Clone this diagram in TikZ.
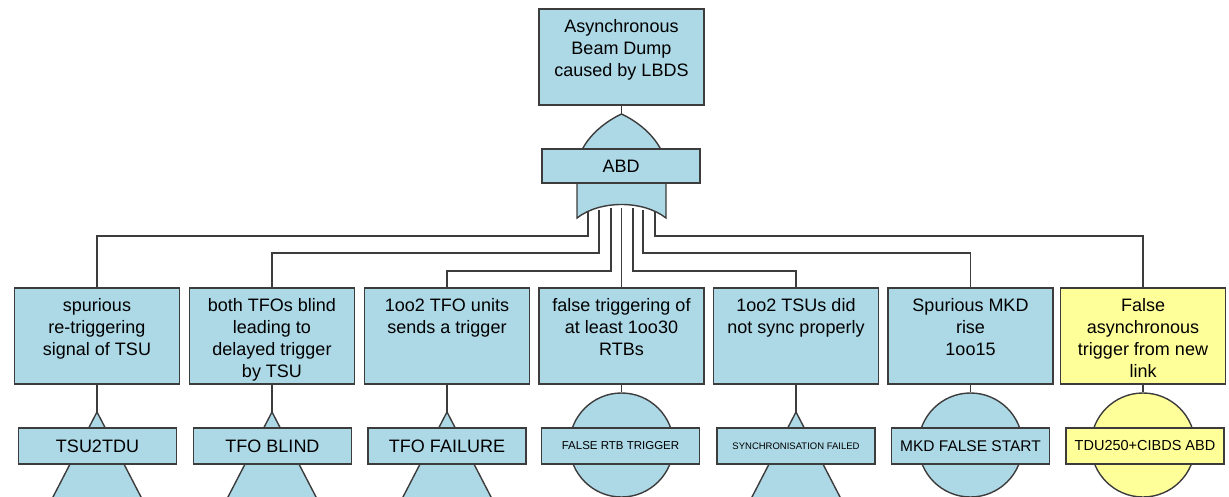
\documentclass[tikz,border=0pt]{standalone}
\usepackage{fontspec}
\setmainfont{Liberation Sans}
\definecolor{ftblue}{HTML}{ADD8E6}
\definecolor{ftyellow}{HTML}{FFFF99}
\definecolor{ftline}{HTML}{3C3C3C}
\tikzset{
  ev/.style={draw=ftline, line width=1.4pt, fill=ftblue, minimum width=165pt, minimum height=96pt, inner sep=0pt},
  evtext/.style={anchor=north, align=center, inner sep=0pt, font=\fontsize{18}{22}\selectfont, text=black},
  lab/.style={draw=ftline, line width=1.4pt, fill=ftblue, minimum width=158pt, minimum height=36pt, inner sep=0pt, font=\fontsize{18}{22}\selectfont, text=black},
  conn/.style={draw=ftline, line width=1.4pt},
  sym/.style={draw=ftline, line width=1.4pt, fill=ftblue},
  basic/.style={circle, draw=ftline, line width=1.4pt, fill=ftblue, minimum size=104pt, inner sep=0pt},
  yel/.style={fill=ftyellow}
}
\begin{document}
\begin{tikzpicture}[x=1pt,y=-1pt]
\clip (0,0) rectangle (1229,497);
\fill[white] (0,0) rectangle (1229,497);

% top event
\node[ev] (b0) at (621.5,57) {};
\node[evtext] (t0) at ([yshift=-11pt]b0.north) {\rule{0pt}{13pt}Asynchronous\\Beam Dump\\caused by LBDS};

% intermediate events
\node[ev] (b1) at (97,336) {};
\node[ev] (b2) at (272,336) {};
\node[ev] (b3) at (447,336) {};
\node[ev] (b4) at (621.5,336) {};
\node[ev] (b5) at (796,336) {};
\node[ev] (b6) at (970.5,336) {};
\node[ev, yel] (b7) at (1143,336) {};

\node[evtext] (t1) at ([yshift=-11pt]b1.north) {\rule{0pt}{13pt}spurious\\re-triggering\\signal of TSU};
\node[evtext] (t2) at ([yshift=-11pt]b2.north) {\rule{0pt}{13pt}both TFOs blind\\leading to\\delayed trigger\\by TSU};
\node[evtext] (t3) at ([yshift=-11pt]b3.north) {\rule{0pt}{13pt}1oo2 TFO units\\sends a trigger};
\node[evtext] (t4) at ([yshift=-11pt]b4.north) {\rule{0pt}{13pt}false triggering of\\at least 1oo30\\RTBs};
\node[evtext] (t5) at ([yshift=-11pt]b5.north) {\rule{0pt}{13pt}1oo2 TSUs did\\not sync properly};
\node[evtext] (t6) at ([yshift=-11pt]b6.north) {\rule{0pt}{13pt}Spurious MKD\\rise\\1oo15};
\node[evtext] (t7) at ([yshift=-11pt]b7.north) {\rule{0pt}{13pt}False\\asynchronous\\trigger from new\\link};

% transfer triangles and basic events
\coordinate (a1) at (97,412);
\coordinate (a2) at (272,412);
\coordinate (a3) at (447,412);
\coordinate (a5) at (796,412);
\draw[sym] (a1) -- ++(-58,112) -- ++(116,0) -- cycle;
\draw[sym] (a2) -- ++(-58,112) -- ++(116,0) -- cycle;
\draw[sym] (a3) -- ++(-58,112) -- ++(116,0) -- cycle;
\draw[sym] (a5) -- ++(-58,112) -- ++(116,0) -- cycle;
\node[basic] (c4) at (621.5,445) {};
\node[basic] (c6) at (970.5,445) {};
\node[basic, yel] (c7) at (1143,445) {};

\draw[conn] (b1.south) -- (a1);
\draw[conn] (b2.south) -- (a2);
\draw[conn] (b3.south) -- (a3);
\draw[conn] (b4.south) -- (c4.north);
\draw[conn] (b5.south) -- (a5);
\draw[conn] (b6.south) -- (c6.north);
\draw[conn] (b7.south) -- (c7.north);

\node[lab] (l1) at (97.5,446) {TSU2TDU};
\node[lab] (l2) at (272.5,446) {TFO BLIND};
\node[lab] (l3) at (447,446) {TFO FAILURE};
\node[lab, font=\fontsize{11.5}{13}\selectfont] (l4) at (620.5,446) {FALSE RTB TRIGGER};
\node[lab, font=\fontsize{9.5}{11}\selectfont] (l5) at (796,446) {SYNCHRONISATION FAILED};
\node[lab, font=\fontsize{15.5}{18}\selectfont] (l6) at (970.5,446) {MKD FALSE START};
\node[lab, yel, font=\fontsize{14.5}{17}\selectfont] (l7) at (1145,446) {TDU250+CIBDS ABD};

% gate inputs
\coordinate (g1) at (588,212);
\coordinate (g2) at (599,210);
\coordinate (g3) at (611,208);
\coordinate (g4) at (621.5,208);
\coordinate (g5) at (633,208);
\coordinate (g6) at (643,210);
\coordinate (g7) at (655,212);
\coordinate (L1) at (0,236);
\coordinate (L2) at (0,253);
\coordinate (L3) at (0,271);
\draw[conn] (g1) -- (g1 |- L1) -| (b1.north);
\draw[conn] (g2) -- (g2 |- L2) -| (b2.north);
\draw[conn] (g3) -- (g3 |- L3) -| (b3.north);
\draw[conn] (g4) -- (b4.north);
\draw[conn] (g5) -- (g5 |- L3) -| (b5.north);
\draw[conn] (g6) -- (g6 |- L2) -| (b6.north);
\draw[conn] (g7) -- (g7 |- L1) -| (b7.north);

% OR gate
\coordinate (apex) at (621.5,114);
\draw[sym] (577,218) -- (577,170)
  .. controls (577,145) and (600,124) .. (apex)
  .. controls (643,124) and (666,145) .. (666,170)
  -- (666,218)
  .. controls (643,200) and (600,200) .. (577,218) -- cycle;
\draw[conn] (b0.south) -- (apex);
\node[lab, minimum height=34pt] (gl) at (621,166) {ABD};
\end{tikzpicture}
\end{document}
